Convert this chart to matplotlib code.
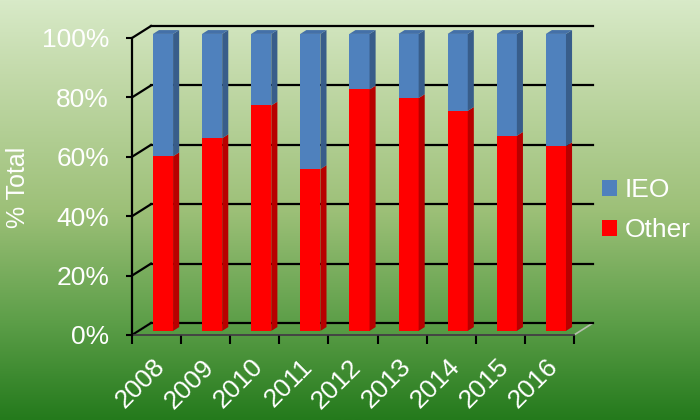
import numpy as np
import matplotlib.pyplot as plt
from matplotlib.colors import LinearSegmentedColormap
from matplotlib.patches import Polygon, Patch

plt.rcParams["font.family"] = ["Liberation Sans", "DejaVu Sans"]

years = ["2008", "2009", "2010", "2011", "2012", "2013", "2014", "2015", "2016"]
other = [58.8, 64.9, 75.9, 54.5, 81.3, 78.4, 74.1, 65.7, 62.2]
ieo = [100 - v for v in other]
y_ticks = [0, 20, 40, 60, 80, 100]

RED, RED_SIDE = "#ff0000", "#b80000"
BLUE, BLUE_SIDE, BLUE_TOP = "#4f81bd", "#385d8a", "#4470a8"

# depth of the 3d box in data units
DX, DY = 0.387, 4.04
BAR_W = 0.41
BAR_D = 0.32          # bar depth as fraction of the box depth
FRONT = 0.34          # front face position inside the box

fig = plt.figure(figsize=(7, 4.2), dpi=100)

# background gradient (light on top, dark green at bottom)
bg = fig.add_axes([0, 0, 1, 1])
bg.set_axis_off()
cmap = LinearSegmentedColormap.from_list("bg", [
    (0.0, "#d8eac8"), (0.15, "#c6dcae"), (0.5, "#9dc078"),
    (0.77, "#5c9e48"), (1.0, "#247a1c")])
grad = np.linspace(0, 1, 256).reshape(-1, 1)
bg.imshow(grad, cmap=cmap, aspect="auto", extent=[0, 1, 0, 1])
bg.set_xlim(0, 1)
bg.set_ylim(0, 1)

ax = fig.add_axes([132 / 700, 85 / 420, 442 / 700, 297 / 420])
ax.patch.set_alpha(0)
n = len(years)
ax.set_xlim(0, n)
ax.set_ylim(0, 100)

# floor
floor = Polygon([(0, 0), (n, 0), (n + DX, DY), (DX, DY)], closed=True,
                facecolor="none", edgecolor="#b8c0b0", lw=1.2,
                clip_on=False, zorder=1)
ax.add_patch(floor)

# back wall grid + side diagonals
for v in y_ticks:
    ax.plot([DX, n + DX], [v + DY, v + DY], color="black", lw=1.6,
            clip_on=False, zorder=2)
    ax.plot([0, DX], [v, v + DY], color="black", lw=1.6,
            clip_on=False, zorder=2)


def draw_bar(x0, b, h, front_c, side_c, top_c=None):
    ddx, ddy = BAR_D * DX, BAR_D * DY
    ax.add_patch(Polygon([(x0, b), (x0 + BAR_W, b), (x0 + BAR_W, b + h), (x0, b + h)],
                         facecolor=front_c, edgecolor="none", clip_on=False, zorder=3))
    ax.add_patch(Polygon([(x0 + BAR_W, b), (x0 + BAR_W + ddx, b + ddy),
                          (x0 + BAR_W + ddx, b + h + ddy), (x0 + BAR_W, b + h)],
                         facecolor=side_c, edgecolor="none", clip_on=False, zorder=3))
    if top_c:
        t = b + h
        ax.add_patch(Polygon([(x0, t), (x0 + ddx, t + ddy),
                              (x0 + BAR_W + ddx, t + ddy), (x0 + BAR_W, t)],
                             facecolor=top_c, edgecolor="none", clip_on=False, zorder=3))


for i in range(n):
    x0 = i + 0.5 - BAR_W / 2 + FRONT * DX
    base = FRONT * DY
    draw_bar(x0, base, other[i], RED, RED_SIDE)
    draw_bar(x0, base + other[i], ieo[i], BLUE, BLUE_SIDE, BLUE_TOP)

# axes / ticks
for s in ["top", "right"]:
    ax.spines[s].set_visible(False)
ax.spines["left"].set_color("black")
ax.spines["left"].set_linewidth(1.6)
ax.spines["bottom"].set_color("#3a3a3a")
ax.spines["bottom"].set_linewidth(1.3)
ax.spines["left"].set_zorder(4)

ax.set_yticks(y_ticks)
ax.set_yticklabels([f"{v}%" for v in y_ticks])
ax.tick_params(axis="y", length=4.5, width=1.5, color="black",
               labelcolor="white", labelsize=19, pad=12)
ax.set_xticks(range(n + 1))
ax.set_xticklabels([])
ax.tick_params(axis="x", length=6.5, width=1.5, color="black", direction="out")

for i, yr in enumerate(years):
    ax.text(i + 0.42, -6.6, yr, rotation=45, rotation_mode="anchor",
            ha="right", va="top", color="white", fontsize=19, clip_on=False)

fig.text(18 / 700, 1 - 187 / 420, "% Total", rotation=90, color="white",
         fontsize=18, ha="center", va="center")

handles = [Patch(facecolor=BLUE, edgecolor="none", label="IEO"),
           Patch(facecolor=RED, edgecolor="none", label="Other")]
fig.legend(handles=handles, loc="upper left", bbox_to_anchor=(602 / 700, 1 - 178 / 420),
           frameon=False, fontsize=19, labelcolor="white", handlelength=0.55,
           handleheight=0.55, handletextpad=0.3, labelspacing=0.62, borderpad=0,
           borderaxespad=0)

fig.savefig("out.png", dpi=100)
